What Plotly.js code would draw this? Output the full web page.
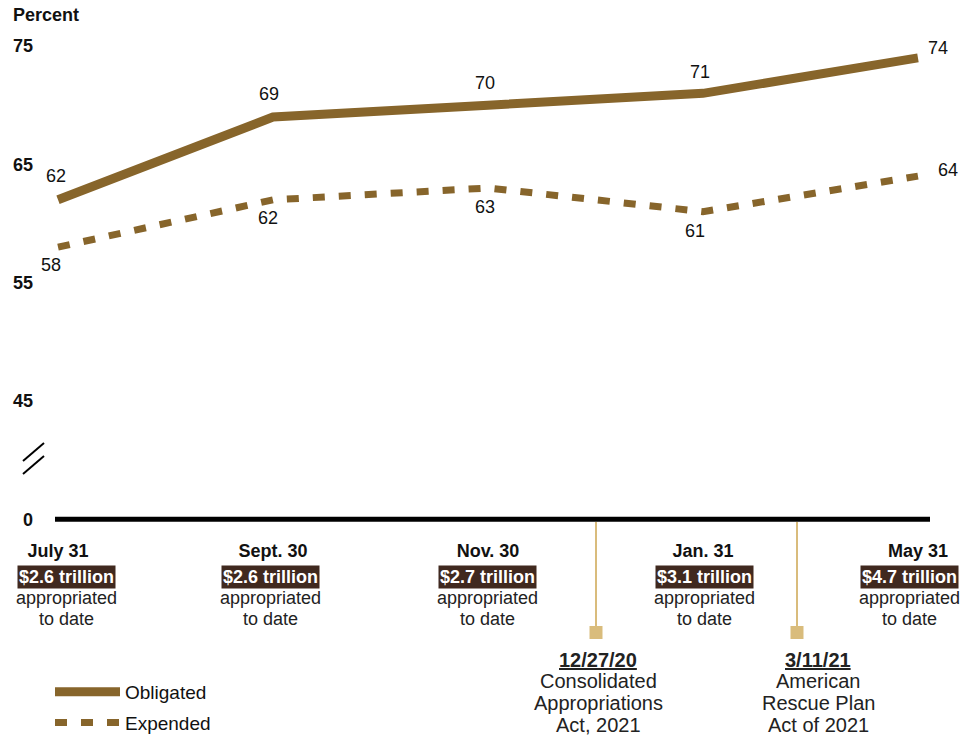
<!DOCTYPE html>
<html>
<head>
<meta charset="utf-8">
<script src="https://cdn.plot.ly/plotly-3.0.1.min.js"></script>
<style>html,body{margin:0;padding:0;background:#fff;}#chart{width:962px;height:737px;}</style>
</head>
<body>
<div id="chart"></div>
<script>
// ---- data ----
const categories = ['July 31', 'Sept. 30', 'Nov. 30', 'Jan. 31', 'May 31'];
const obligated = [62, 69, 70, 71, 74];
const expended = [58, 62, 63, 61, 64];
const appropriated = ['$2.6 trillion', '$2.6 trillion', '$2.7 trillion', '$3.1 trillion', '$4.7 trillion'];
const yTickVals = [35, 45, 55, 65, 75];
const yTickText = ['0', '45', '55', '65', '75'];
const eventDates = ['12/27/20', '3/11/21'];
const eventNames = [['Consolidated', 'Appropriations', 'Act, 2021'], ['American', 'Rescue Plan', 'Act of 2021']];

// ---- layout helpers (pixel -> paper) ----
const W = 962, H = 737;
const L = 55, R = 930, T = 40, B = 525;
const px = p => (p - L) / (R - L);
const py = p => (B - p) / (B - T);

const FONT = 'Arial, "Liberation Sans", sans-serif';
const GOLD = '#87652b';
const TAN = '#d9bc7c';
const DARK = '#40291f';

const xIdx = categories.map((c, i) => i);

const traces = [
  {x: xIdx, y: obligated, name: 'Obligated', legendgroup: 'obl', type: 'scatter', mode: 'lines',
   line: {color: GOLD, width: 9}, hoverinfo: 'skip'},
  {x: xIdx, y: expended, name: 'Expended', legendgroup: 'exp', type: 'scatter', mode: 'lines',
   line: {color: GOLD, width: 7, dash: '12px,14px'}, hoverinfo: 'skip'}
];

const annotations = [];
const txt = (text, x, y, size, opts) => Object.assign({x: x, y: y, xref: 'paper', yref: 'paper', text: text,
  xanchor: 'center', yanchor: 'middle', showarrow: false, font: {family: FONT, size: size, color: '#222'}}, opts || {});

// data labels
const oblShift = [[-2, 24], [-4, 23], [-3, 22], [-3, 21], [20, 10]];
const expShift = [[-7, -18], [-5, -18], [-3, -19], [-8, -19], [30, 6]];
obligated.forEach((v, i) => annotations.push({x: i, y: v, xref: 'x', yref: 'y', text: String(v), showarrow: false,
  xanchor: 'center', yanchor: 'middle', xshift: oblShift[i][0], yshift: oblShift[i][1], font: {family: FONT, size: 18, color: '#111'}}));
expended.forEach((v, i) => annotations.push({x: i, y: v, xref: 'x', yref: 'y', text: String(v), showarrow: false,
  xanchor: 'center', yanchor: 'middle', xshift: expShift[i][0], yshift: expShift[i][1], font: {family: FONT, size: 18, color: '#111'}}));

// appropriated boxes
const boxShift = [8, -3, 0, 2, -8];
appropriated.forEach((t, i) => {
  annotations.push({x: i, y: py(577), xref: 'x', yref: 'paper', text: '<b>' + t + '</b>', showarrow: false,
    xanchor: 'center', yanchor: 'middle', xshift: boxShift[i], bgcolor: DARK, borderpad: 1,
    font: {family: FONT, size: 18, color: '#fff'}});
  annotations.push({x: i, y: py(598), xref: 'x', yref: 'paper', text: 'appropriated', showarrow: false,
    xanchor: 'center', yanchor: 'middle', xshift: boxShift[i], font: {family: FONT, size: 18, color: '#222'}});
  annotations.push({x: i, y: py(619), xref: 'x', yref: 'paper', text: 'to date', showarrow: false,
    xanchor: 'center', yanchor: 'middle', xshift: boxShift[i], font: {family: FONT, size: 18, color: '#222'}});
});

// percent label
annotations.push(txt('<b>Percent</b>', px(11), py(15), 18, {xanchor: 'left', font: {family: FONT, size: 18, color: '#111'}}));

// event annotations
const eventX = [598, 818];
eventDates.forEach((d, i) => {
  annotations.push(txt('<b><u>' + d + '</u></b>', px(eventX[i]), py(660), 20));
  eventNames[i].forEach((line, j) => annotations.push(txt(line, px(eventX[i]), py(681 + j * 22), 20)));
});

const shapes = [
  // baseline
  {type: 'line', xref: 'paper', yref: 'y', x0: 0, x1: 1, y0: 35, y1: 35, line: {color: '#000', width: 5}},
  // axis break marks
  {type: 'line', xref: 'paper', yref: 'paper', x0: px(23), y0: py(461), x1: px(44), y1: py(443), line: {color: '#000', width: 2}},
  {type: 'line', xref: 'paper', yref: 'paper', x0: px(23), y0: py(474), x1: px(44), y1: py(456), line: {color: '#000', width: 2}}
];
[596, 797].forEach(e => {
  shapes.push({type: 'line', xref: 'paper', yref: 'paper', x0: px(e), x1: px(e), y0: py(522), y1: py(630), line: {color: TAN, width: 2}});
  shapes.push({type: 'rect', xref: 'paper', yref: 'paper', x0: px(e - 6.5), x1: px(e + 6.5), y0: py(626), y1: py(639), fillcolor: TAN, line: {width: 0}});
});

const layout = {
  width: W, height: H,
  margin: {l: L, r: W - R, t: T, b: H - B, autoexpand: false},
  paper_bgcolor: '#fff', plot_bgcolor: '#fff',
  font: {family: FONT, color: '#111'},
  xaxis: {range: [-0.014, 4.056], tickvals: xIdx, ticktext: categories.map(c => '<b>' + c + '</b>'),
    showgrid: false, zeroline: false, showline: false, ticks: '', ticklabelstandoff: 13,
    tickfont: {family: FONT, size: 18, color: '#111'}, fixedrange: true},
  yaxis: {range: [34.51, 75.51], tickvals: yTickVals, ticktext: yTickText.map(t => '<b>' + t + '</b>'),
    showgrid: false, zeroline: false, showline: false, ticks: '', ticklabelstandoff: 21,
    tickfont: {family: FONT, size: 18, color: '#111'}, fixedrange: true},
  showlegend: true,
  legend: {x: px(50), y: py(673), xanchor: 'left', yanchor: 'top', orientation: 'v',
    font: {family: FONT, size: 19, color: '#111'}, itemwidth: 65, tracegroupgap: 3, bgcolor: 'rgba(0,0,0,0)'},
  annotations: annotations,
  shapes: shapes
};

Plotly.newPlot('chart', traces, layout, {displayModeBar: false, staticPlot: true});
</script>
</body>
</html>
